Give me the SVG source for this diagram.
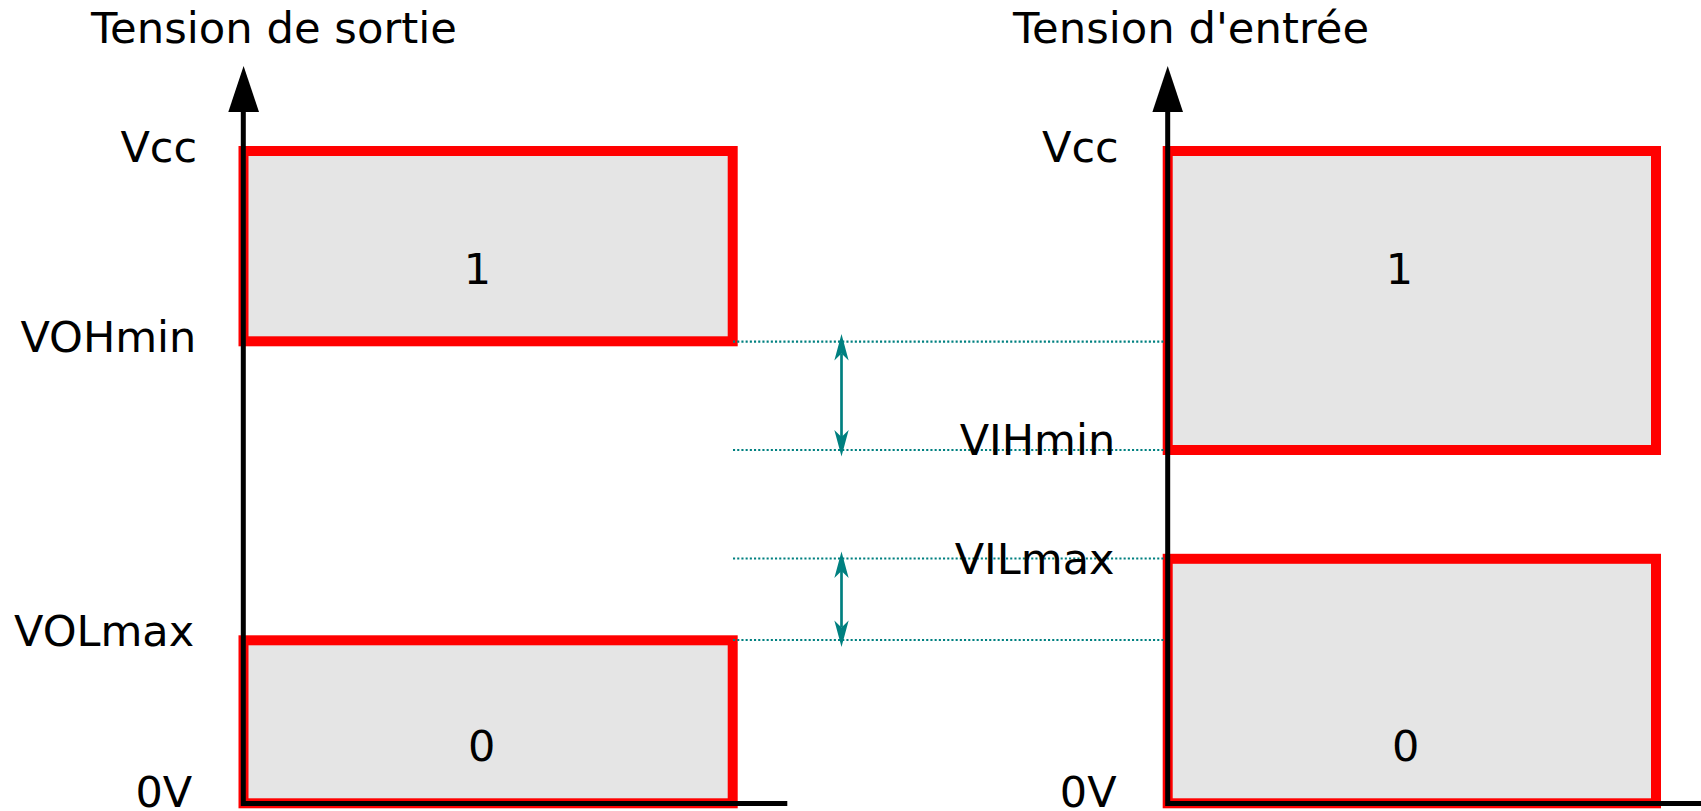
<svg xmlns="http://www.w3.org/2000/svg" width="1701" height="811" viewBox="0 0 1701 811">
<style>
.zone{fill:#e5e5e5;stroke:#ff0000;stroke-width:10}
.axis{stroke:#000;stroke-width:5;fill:none}
.head{fill:#000}
.dot{stroke:#008080;stroke-width:2.2;stroke-dasharray:2.1 2.1;fill:none}
.dim{stroke:#008080;stroke-width:2.7;fill:none;marker-start:url(#tip);marker-end:url(#tip)}
text{font-family:"DejaVu Sans","Liberation Sans",sans-serif;font-size:43px;fill:#000}
.title{font-size:43.3px}
.mid{text-anchor:middle}
</style>
<defs>
<marker id="tip" markerUnits="userSpaceOnUse" markerWidth="30" markerHeight="20" viewBox="-24 -8 26 16" refX="-17" refY="0" orient="auto-start-reverse">
<path d="M0,0 L-23,-6.2 L-17,0 L-23,6.2 Z" fill="#008080"/>
</marker>
</defs>
<g id="out-high">
<rect class="zone" x="243.5" y="151" width="489.2" height="190.3"/>
<text class="mid" x="477.5" y="284">1</text>
</g>
<g id="out-low">
<rect class="zone" x="243.5" y="640.3" width="489.2" height="163"/>
<text class="mid" x="481.6" y="760.7">0</text>
</g>
<g id="in-high">
<rect class="zone" x="1167.7" y="151" width="488.3" height="299"/>
<text class="mid" x="1399.5" y="284">1</text>
</g>
<g id="in-low">
<rect class="zone" x="1167.7" y="558.8" width="488.3" height="244.5"/>
<text class="mid" x="1405.6" y="760.7">0</text>
</g>
<g id="connectors">
<line class="dot" x1="733" y1="341.7" x2="1165" y2="341.7"/>
<line class="dot" x1="733" y1="450" x2="1165" y2="450"/>
<line class="dot" x1="733" y1="558.5" x2="1165" y2="558.5"/>
<line class="dot" x1="733" y1="640" x2="1165" y2="640"/>
<line class="dim" x1="841.5" y1="353.5" x2="841.5" y2="437"/>
<line class="dim" x1="841.5" y1="571" x2="841.5" y2="627.5"/>
</g>
<g id="axis-out">
<polyline class="axis" points="243.3,112 243.3,803.5 787.3,803.5"/>
<polygon class="head" points="243.6,66 259,112 228.3,112"/>
</g>
<g id="axis-in">
<polyline class="axis" points="1167.7,112 1167.7,803.5 1701,803.5"/>
<polygon class="head" points="1167.7,66 1183,112 1152.4,112"/>
</g>
<g id="labels">
<text class="title" x="91" y="42.7">Tension de sortie</text>
<text class="title" x="1013" y="42.7">Tension d'entrée</text>
<text x="120.4" y="161.7">Vcc</text>
<text x="20.4" y="352.3">VOHmin</text>
<text x="14" y="645.7">VOLmax</text>
<text x="135.5" y="806.5">0V</text>
<text x="1042" y="161.7">Vcc</text>
<text x="959.7" y="455">VIHmin</text>
<text x="954.7" y="574">VILmax</text>
<text x="1059.8" y="806.5">0V</text>
</g>
</svg>
